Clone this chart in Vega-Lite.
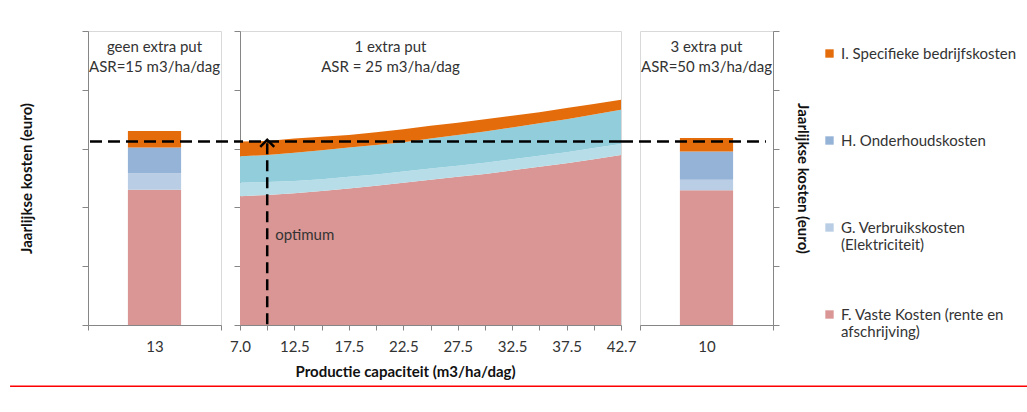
{
  "$schema": "https://vega.github.io/schema/vega-lite/v6.json",
  "padding": {"left": 8, "top": 30, "right": 0, "bottom": 0},
  "background": "white",
  "config": {
    "font": "Lato",
    "view": {"stroke": "#D9D9D9", "strokeWidth": 1},
    "axis": {"domainColor": "#868686", "tickColor": "#868686", "labelColor": "#333333", "titleColor": "#111111", "labelFontSize": 15, "titleFontSize": 15, "titleFontWeight": "bold", "grid": false, "labelFont": "Lato", "titleFont": "Lato"},
    "title": {"fontSize": 15, "fontWeight": "normal", "color": "#333333", "lineHeight": 20, "anchor": "middle", "font": "Lato"}
  },
  "datasets": {
    "links": [
      {"capaciteit": "13", "kosten": "F. Vaste Kosten (rente en afschrijving)", "waarde": 2.30},
      {"capaciteit": "13", "kosten": "G. Verbruikskosten (Elektriciteit)", "waarde": 0.28},
      {"capaciteit": "13", "kosten": "H. Onderhoudskosten", "waarde": 0.44},
      {"capaciteit": "13", "kosten": "I. Specifieke bedrijfskosten", "waarde": 0.28}
    ],
    "rechts": [
      {"capaciteit": "10", "kosten": "F. Vaste Kosten (rente en afschrijving)", "waarde": 2.29},
      {"capaciteit": "10", "kosten": "G. Verbruikskosten (Elektriciteit)", "waarde": 0.18},
      {"capaciteit": "10", "kosten": "H. Onderhoudskosten", "waarde": 0.48},
      {"capaciteit": "10", "kosten": "I. Specifieke bedrijfskosten", "waarde": 0.23}
    ],
    "midden": [
      {"capaciteit": "7.0", "kosten": "F. Vaste Kosten (rente en afschrijving)", "waarde": 2.19},
      {"capaciteit": "10.0", "kosten": "F. Vaste Kosten (rente en afschrijving)", "waarde": 2.21},
      {"capaciteit": "12.5", "kosten": "F. Vaste Kosten (rente en afschrijving)", "waarde": 2.24},
      {"capaciteit": "15.0", "kosten": "F. Vaste Kosten (rente en afschrijving)", "waarde": 2.28},
      {"capaciteit": "17.5", "kosten": "F. Vaste Kosten (rente en afschrijving)", "waarde": 2.32},
      {"capaciteit": "20.0", "kosten": "F. Vaste Kosten (rente en afschrijving)", "waarde": 2.37},
      {"capaciteit": "22.5", "kosten": "F. Vaste Kosten (rente en afschrijving)", "waarde": 2.42},
      {"capaciteit": "25.0", "kosten": "F. Vaste Kosten (rente en afschrijving)", "waarde": 2.47},
      {"capaciteit": "27.5", "kosten": "F. Vaste Kosten (rente en afschrijving)", "waarde": 2.52},
      {"capaciteit": "30.0", "kosten": "F. Vaste Kosten (rente en afschrijving)", "waarde": 2.57},
      {"capaciteit": "32.5", "kosten": "F. Vaste Kosten (rente en afschrijving)", "waarde": 2.63},
      {"capaciteit": "35.0", "kosten": "F. Vaste Kosten (rente en afschrijving)", "waarde": 2.69},
      {"capaciteit": "37.5", "kosten": "F. Vaste Kosten (rente en afschrijving)", "waarde": 2.75},
      {"capaciteit": "40.0", "kosten": "F. Vaste Kosten (rente en afschrijving)", "waarde": 2.82},
      {"capaciteit": "42.7", "kosten": "F. Vaste Kosten (rente en afschrijving)", "waarde": 2.89},
      {"capaciteit": "7.0", "kosten": "G. Verbruikskosten (Elektriciteit)", "waarde": 0.23},
      {"capaciteit": "10.0", "kosten": "G. Verbruikskosten (Elektriciteit)", "waarde": 0.22},
      {"capaciteit": "12.5", "kosten": "G. Verbruikskosten (Elektriciteit)", "waarde": 0.21},
      {"capaciteit": "15.0", "kosten": "G. Verbruikskosten (Elektriciteit)", "waarde": 0.20},
      {"capaciteit": "17.5", "kosten": "G. Verbruikskosten (Elektriciteit)", "waarde": 0.20},
      {"capaciteit": "20.0", "kosten": "G. Verbruikskosten (Elektriciteit)", "waarde": 0.19},
      {"capaciteit": "22.5", "kosten": "G. Verbruikskosten (Elektriciteit)", "waarde": 0.19},
      {"capaciteit": "25.0", "kosten": "G. Verbruikskosten (Elektriciteit)", "waarde": 0.19},
      {"capaciteit": "27.5", "kosten": "G. Verbruikskosten (Elektriciteit)", "waarde": 0.19},
      {"capaciteit": "30.0", "kosten": "G. Verbruikskosten (Elektriciteit)", "waarde": 0.19},
      {"capaciteit": "32.5", "kosten": "G. Verbruikskosten (Elektriciteit)", "waarde": 0.19},
      {"capaciteit": "35.0", "kosten": "G. Verbruikskosten (Elektriciteit)", "waarde": 0.19},
      {"capaciteit": "37.5", "kosten": "G. Verbruikskosten (Elektriciteit)", "waarde": 0.19},
      {"capaciteit": "40.0", "kosten": "G. Verbruikskosten (Elektriciteit)", "waarde": 0.19},
      {"capaciteit": "42.7", "kosten": "G. Verbruikskosten (Elektriciteit)", "waarde": 0.19},
      {"capaciteit": "7.0", "kosten": "H. Onderhoudskosten", "waarde": 0.45},
      {"capaciteit": "10.0", "kosten": "H. Onderhoudskosten", "waarde": 0.46},
      {"capaciteit": "12.5", "kosten": "H. Onderhoudskosten", "waarde": 0.48},
      {"capaciteit": "15.0", "kosten": "H. Onderhoudskosten", "waarde": 0.49},
      {"capaciteit": "17.5", "kosten": "H. Onderhoudskosten", "waarde": 0.50},
      {"capaciteit": "20.0", "kosten": "H. Onderhoudskosten", "waarde": 0.50},
      {"capaciteit": "22.5", "kosten": "H. Onderhoudskosten", "waarde": 0.50},
      {"capaciteit": "25.0", "kosten": "H. Onderhoudskosten", "waarde": 0.51},
      {"capaciteit": "27.5", "kosten": "H. Onderhoudskosten", "waarde": 0.52},
      {"capaciteit": "30.0", "kosten": "H. Onderhoudskosten", "waarde": 0.53},
      {"capaciteit": "32.5", "kosten": "H. Onderhoudskosten", "waarde": 0.54},
      {"capaciteit": "35.0", "kosten": "H. Onderhoudskosten", "waarde": 0.55},
      {"capaciteit": "37.5", "kosten": "H. Onderhoudskosten", "waarde": 0.56},
      {"capaciteit": "40.0", "kosten": "H. Onderhoudskosten", "waarde": 0.57},
      {"capaciteit": "42.7", "kosten": "H. Onderhoudskosten", "waarde": 0.58},
      {"capaciteit": "7.0", "kosten": "I. Specifieke bedrijfskosten", "waarde": 0.25},
      {"capaciteit": "10.0", "kosten": "I. Specifieke bedrijfskosten", "waarde": 0.24},
      {"capaciteit": "12.5", "kosten": "I. Specifieke bedrijfskosten", "waarde": 0.24},
      {"capaciteit": "15.0", "kosten": "I. Specifieke bedrijfskosten", "waarde": 0.23},
      {"capaciteit": "17.5", "kosten": "I. Specifieke bedrijfskosten", "waarde": 0.21},
      {"capaciteit": "20.0", "kosten": "I. Specifieke bedrijfskosten", "waarde": 0.22},
      {"capaciteit": "22.5", "kosten": "I. Specifieke bedrijfskosten", "waarde": 0.22},
      {"capaciteit": "25.0", "kosten": "I. Specifieke bedrijfskosten", "waarde": 0.22},
      {"capaciteit": "27.5", "kosten": "I. Specifieke bedrijfskosten", "waarde": 0.21},
      {"capaciteit": "30.0", "kosten": "I. Specifieke bedrijfskosten", "waarde": 0.21},
      {"capaciteit": "32.5", "kosten": "I. Specifieke bedrijfskosten", "waarde": 0.20},
      {"capaciteit": "35.0", "kosten": "I. Specifieke bedrijfskosten", "waarde": 0.19},
      {"capaciteit": "37.5", "kosten": "I. Specifieke bedrijfskosten", "waarde": 0.19},
      {"capaciteit": "40.0", "kosten": "I. Specifieke bedrijfskosten", "waarde": 0.18},
      {"capaciteit": "42.7", "kosten": "I. Specifieke bedrijfskosten", "waarde": 0.17}
    ],
    "optimum": [
      {"capaciteit": "10.0", "kosten": 3.09, "label": "optimum"}
    ],
    "referentie": [
      {"kosten": 3.12}
    ]
  },
  "hconcat": [
    {
      "width": 133,
      "height": 294,
      "title": {"text": ["geen extra put", "ASR=15 m3/ha/dag"], "offset": -44},
      "layer": [
        {
          "data": {"name": "links"},
          "mark": {"type": "bar", "width": {"band": 0.4}},
          "encoding": {
            "x": {"field": "capaciteit", "type": "nominal", "scale": {"type": "band", "paddingInner": 0, "paddingOuter": 0}, "axis": {"title": null, "labelAngle": 0, "tickBand": "extent", "tickSize": 5, "labelPadding": 9}},
            "y": {"field": "waarde", "type": "quantitative", "stack": "zero", "scale": {"domain": [0, 5], "nice": false}, "axis": {"title": "Jaarlijkse kosten (euro)", "labels": false, "values": [0, 1, 2, 3, 4, 5], "tickSize": 6, "titlePadding": 47}},
            "color": {"field": "kosten", "type": "nominal",
              "scale": {"domain": ["I. Specifieke bedrijfskosten", "H. Onderhoudskosten", "G. Verbruikskosten (Elektriciteit)", "F. Vaste Kosten (rente en afschrijving)"], "range": ["#E46C0A", "#95B3D7", "#B9CDE5", "#D99694"]},
              "legend": {"orient": "none", "legendX": 734, "legendY": 15, "title": null, "symbolType": "square", "symbolSize": 70, "symbolStrokeWidth": 0, "labelFontSize": 15, "labelColor": "#333333", "labelFont": "Lato", "labelLimit": 300, "rowPadding": 54, "padding": 0,
                "labelExpr": "datum.label == 'G. Verbruikskosten (Elektriciteit)' ? ['G. Verbruikskosten', '(Elektriciteit)'] : datum.label == 'F. Vaste Kosten (rente en afschrijving)' ? ['F. Vaste Kosten (rente en', 'afschrijving)'] : [datum.label, ' ']"}},
            "order": {"field": "kosten", "sort": "ascending"}
          }
        },
        {
          "data": {"name": "referentie"},
          "mark": {"type": "rule", "color": "black", "strokeWidth": 2.5, "strokeDash": [12, 6]},
          "encoding": {
            "x": {"datum": 0.015, "type": "quantitative", "scale": {"domain": [0, 1]}, "axis": null},
            "x2": {"datum": 1.143},
            "y": {"field": "kosten", "type": "quantitative"}
          }
        },
        {
          "data": {"name": "referentie"},
          "mark": {"type": "rule", "color": "#FF0000", "strokeWidth": 1.5},
          "encoding": {
            "x": {"datum": -0.586, "type": "quantitative", "scale": {"domain": [0, 1]}, "axis": null},
            "x2": {"datum": 7.075},
            "y": {"datum": -1.04, "type": "quantitative"}
          }
        }
      ],
      "resolve": {"scale": {"x": "independent"}}
    },
    {
      "width": 381,
      "height": 294,
      "title": {"text": ["1 extra put", "ASR = 25 m3/ha/dag"], "offset": -44, "dx": -40},
      "layer": [
        {
          "data": {"name": "midden"},
          "mark": {"type": "area"},
          "encoding": {
            "x": {"field": "capaciteit", "type": "ordinal", "scale": {"type": "point", "padding": 0, "domain": ["7.0", "10.0", "12.5", "15.0", "17.5", "20.0", "22.5", "25.0", "27.5", "30.0", "32.5", "35.0", "37.5", "40.0", "42.7"]},
              "axis": {"title": "Productie capaciteit (m3/ha/dag)", "titleX": 165, "titlePadding": 10, "labelAngle": 0, "tickSize": 5, "labelPadding": 9, "labelOverlap": false,
                "labelExpr": "indexof(['7.0','12.5','17.5','22.5','27.5','32.5','37.5','42.7'], datum.value) >= 0 ? datum.value : ''"}},
            "y": {"field": "waarde", "type": "quantitative", "stack": "zero", "scale": {"domain": [0, 5], "nice": false}, "axis": {"title": null, "labels": false, "values": [0, 1, 2, 3, 4, 5], "tickSize": 6}},
            "fill": {"field": "kosten", "type": "nominal",
              "scale": {"domain": ["I. Specifieke bedrijfskosten", "H. Onderhoudskosten", "G. Verbruikskosten (Elektriciteit)", "F. Vaste Kosten (rente en afschrijving)"], "range": ["#E46C0A", "#92CDDC", "#B7DEE8", "#D99694"]},
              "legend": null},
            "order": {"field": "kosten", "sort": "ascending"}
          }
        },
        {
          "data": {"name": "referentie"},
          "mark": {"type": "rule", "color": "black", "strokeWidth": 2.5, "strokeDash": [12, 6]},
          "encoding": {
            "y": {"field": "kosten", "type": "quantitative"}
          }
        },
        {
          "data": {"name": "optimum"},
          "mark": {"type": "rule", "color": "black", "strokeWidth": 2.5, "strokeDash": [11, 6]},
          "encoding": {
            "x": {"field": "capaciteit", "type": "ordinal"},
            "y": {"field": "kosten", "type": "quantitative"},
            "y2": {"datum": 0}
          }
        },
        {
          "data": {"name": "optimum"},
          "mark": {"type": "point", "shape": "M-1,0.5L0,-0.5L1,0.5", "size": 196, "filled": false, "stroke": "black", "strokeWidth": 2.5, "opacity": 1},
          "encoding": {
            "x": {"field": "capaciteit", "type": "ordinal"},
            "y": {"field": "kosten", "type": "quantitative"}
          }
        },
        {
          "data": {"name": "optimum"},
          "mark": {"type": "text", "align": "left", "baseline": "middle", "dx": 8, "dy": 92, "fontSize": 15, "color": "#333333", "font": "Lato"},
          "encoding": {
            "x": {"field": "capaciteit", "type": "ordinal"},
            "y": {"field": "kosten", "type": "quantitative"},
            "text": {"field": "label"}
          }
        }
      ]
    },
    {
      "width": 133,
      "height": 294,
      "title": {"text": ["3 extra put", "ASR=50 m3/ha/dag"], "offset": -44},
      "layer": [
        {
          "data": {"name": "rechts"},
          "mark": {"type": "bar", "width": {"band": 0.4}},
          "encoding": {
            "x": {"field": "capaciteit", "type": "nominal", "scale": {"type": "band", "paddingInner": 0, "paddingOuter": 0}, "axis": {"title": null, "labelAngle": 0, "tickBand": "extent", "tickSize": 5, "labelPadding": 9}},
            "y": {"field": "waarde", "type": "quantitative", "stack": "zero", "scale": {"domain": [0, 5], "nice": false}, "axis": {"orient": "right", "title": "Jaarlijkse kosten (euro)", "labels": false, "values": [0, 1, 2, 3, 4, 5], "tickSize": 6, "titlePadding": 15}},
            "color": {"field": "kosten", "type": "nominal"},
            "order": {"field": "kosten", "sort": "ascending"}
          }
        },
        {
          "data": {"name": "referentie"},
          "mark": {"type": "rule", "color": "black", "strokeWidth": 2.5, "strokeDash": [12, 6]},
          "encoding": {
            "x": {"datum": -0.143, "type": "quantitative", "scale": {"domain": [0, 1]}, "axis": null},
            "x2": {"datum": 0.947},
            "y": {"field": "kosten", "type": "quantitative"}
          }
        }
      ],
      "resolve": {"scale": {"x": "independent"}}
    }
  ],
  "spacing": 19,
  "bounds": "flush"
}
